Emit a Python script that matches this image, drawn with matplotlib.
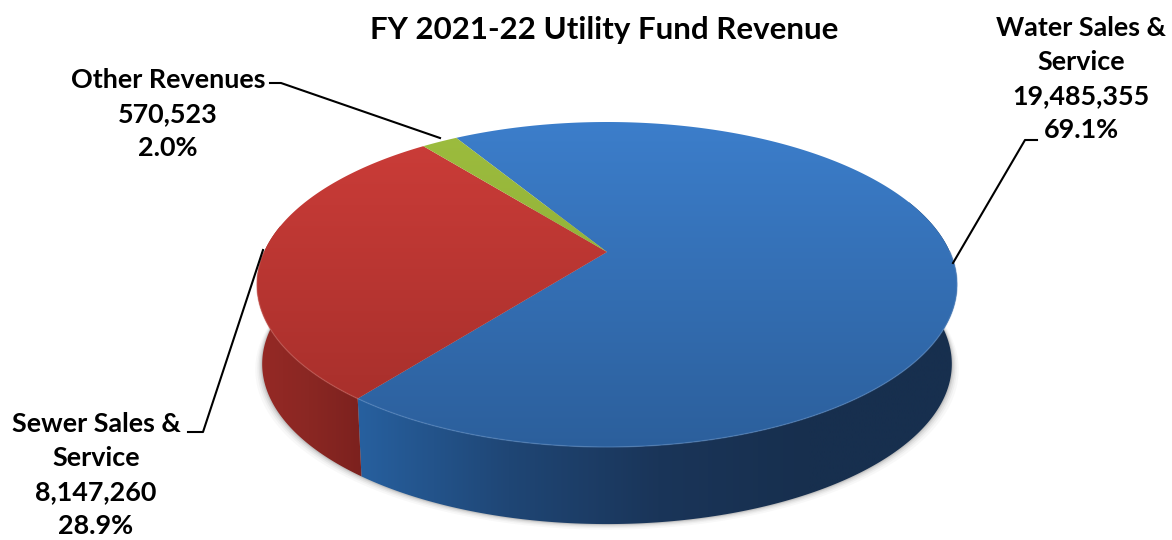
import numpy as np
import matplotlib
matplotlib.use("Agg")
import matplotlib.pyplot as plt
from matplotlib.colors import LinearSegmentedColormap
from matplotlib.patches import Polygon

plt.rcParams['font.family'] = ['Lato', 'DejaVu Sans']

title = "FY 2021-22 Utility Fund Revenue"
categories = ["Water Sales &\nService", "Sewer Sales &\nService", "Other Revenues"]
amounts = [19485355, 8147260, 570523]
percents = ["69.1%", "28.9%", "2.0%"]

top_colors = [("#3c7ecb", "#2b5e9a"), ("#cd3d39", "#a12d29"), ("#9dbd3e", "#86a433")]
side_colors = [["#27609f", "#1f4675", "#1a3559", "#172f4e", "#172f4e"],
               ["#962925", "#8a2723", "#7c211e"],
               ["#7f9a30", "#7f9a30"]]

# pie geometry, pixels
cx, apex_y = 607, 252
a, s, k = 343, 156, 0.2
start = 121
side_dy = 80
shrink = 0.985


def rim(t, scale=1.0, dy=0.0):
    t = np.radians(t)
    x, y = np.cos(t), np.sin(t)
    w = 1 + k * y
    return cx + scale * a * x / w, apex_y - scale * s * y / w + dy


fig = plt.figure(figsize=(11.72, 5.4), dpi=100)
ax = fig.add_axes([0, 0, 1, 1])


def fill_grad(poly_xy, colors, vertical=True, extent=None, z=2):
    cmap = LinearSegmentedColormap.from_list("g", colors)
    grad = np.linspace(0, 1, 256)
    grad = grad[:, None] if vertical else grad[None, :]
    patch = Polygon(poly_xy, closed=True, fc="none", ec="none", transform=ax.transData)
    ax.add_patch(patch)
    im = ax.imshow(grad, cmap=cmap, extent=extent, aspect="auto", origin="upper", zorder=z,
                   interpolation="bilinear")
    im.set_clip_path(patch)


fracs = np.array(amounts) / sum(amounts)
edges = start - np.cumsum(np.r_[0, fracs]) * 360

# soft shadow under the pie
all_t = np.linspace(0, 360, 361)
bx, by = rim(all_t, shrink, side_dy)
for grow, alpha in zip([7, 5, 3.5, 2, 1], [0.04, 0.05, 0.08, 0.1, 0.14]):
    ax.add_patch(Polygon(np.c_[cx + (bx - cx) * (1 + grow / 350), by + grow * 0.8], closed=True,
                         fc="#555555", ec="none", alpha=alpha, zorder=1))

# sides, only the front part of the rim shows
for i in range(2):
    t0, t1 = edges[i + 1] % 360, edges[i] % 360
    if i == 0:
        lo, hi = t0, 380
    else:
        lo, hi = 170, t1
    t = np.linspace(lo, hi, 200)
    tx, ty = rim(t)
    sx, sy = rim(t, shrink, side_dy)
    poly = np.r_[np.c_[tx, ty], np.c_[sx, sy][::-1]]
    fill_grad(poly, side_colors[i], vertical=False,
              extent=[poly[:, 0].min(), poly[:, 0].max(), 540, 100], z=2)

# top of each slice
for i in range(3):
    t = np.linspace(edges[i + 1], edges[i], 300)
    x, y = rim(t)
    poly = np.r_[[[cx, apex_y]], np.c_[x, y]]
    fill_grad(poly, top_colors[i], extent=[0, 1172, 460, 120], z=3)

# light edge along the front of the top
t = np.linspace(edges[1] + 360, 360, 200)
x, y = rim(t)
ax.plot(x, y, color="#5b8cc6", lw=1.0, alpha=0.5, zorder=4)
t = np.linspace(180, edges[1] + 360, 60)
x, y = rim(t)
ax.plot(x, y, color="#c9605a", lw=1.0, alpha=0.5, zorder=4)

ax.set_xlim(0, 1172)
ax.set_ylim(540, 0)
ax.axis("off")

# leader lines
ax.plot([953, 1025, 1037], [263, 140, 140], color="black", lw=1.5, zorder=5)
ax.plot([440, 281, 270], [138, 83, 83], color="black", lw=1.5, zorder=5)
ax.plot([263, 203, 188], [250, 432, 432], color="black", lw=1.5, zorder=5)

ax.text(604, 30, title, ha="center", va="center", fontsize=22.5, fontweight="bold")
lab = dict(ha="center", va="center", fontsize=19.4, fontweight="bold", linespacing=1.5)
ax.text(1081, 79, "%s\n%s\n%s" % (categories[0], f"{amounts[0]:,}", percents[0]), **lab)
ax.text(96, 475, "%s\n%s\n%s" % (categories[1], f"{amounts[1]:,}", percents[1]), **lab)
ax.text(168, 114, "%s\n%s\n%s" % (categories[2], f"{amounts[2]:,}", percents[2]), **lab)

fig.savefig("out.png", dpi=100)
